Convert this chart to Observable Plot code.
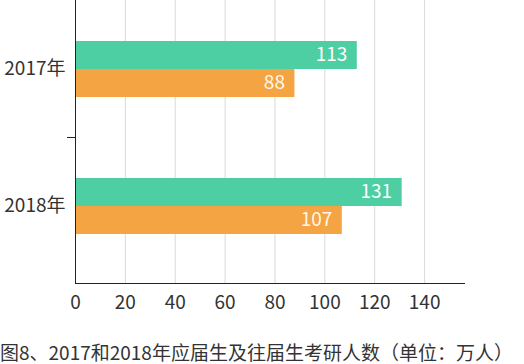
<!DOCTYPE html>
<html>
<head>
<meta charset="utf-8">
<script src="https://cdn.jsdelivr.net/npm/d3@7"></script>
<script src="https://cdn.jsdelivr.net/npm/@observablehq/plot@0.6"></script>
<style>
  html, body { margin: 0; padding: 0; background: #fff; }
  body { width: 524px; height: 364px; overflow: hidden; font-family: "Noto Sans CJK SC", sans-serif; }
  #chart { height: 320px; }
  #caption { display: inline-block; font-size: 19px; line-height: 22px; color: #333; margin-top: 21px; white-space: nowrap; }
</style>
</head>
<body>
<div id="chart"></div>
<div id="caption">图8、2017和2018年应届生及往届生考研人数（单位：万人）</div>
<script>
const years = ["2017年", "2018年"];
const freshGrads = [113, 131];   // 应届生
const pastGrads = [88, 107];     // 往届生
const xTicks = [0, 20, 40, 60, 80, 100, 120, 140];
const gridTicks = [20, 40, 60, 80, 100, 120, 140];

const fresh = years.map((y, i) => ({year: y, value: freshGrads[i]}));
const past = years.map((y, i) => ({year: y, value: pastGrads[i]}));

const green = "#4dcea3";
const orange = "#f4a443";

const plot = Plot.plot({
  width: 524,
  height: 320,
  marginLeft: 75,
  marginRight: 60,
  marginTop: 0,
  marginBottom: 37,
  style: {fontFamily: "Noto Sans CJK SC, sans-serif", fontSize: "19px", color: "#333", background: "#fff"},
  x: {domain: [0, 156], label: null},
  y: {domain: years, range: [-0.5, 273.5], padding: 0, label: null},
  marks: [
    Plot.gridX(gridTicks, {stroke: "#d9d9d9", strokeOpacity: 1}),
    Plot.barX(fresh, {y: "year", x: "value", fill: green, insetTop: 41, insetBottom: 68}),
    Plot.barX(past, {y: "year", x: "value", fill: orange, insetTop: 69, insetBottom: 40}),
    Plot.text(fresh, {y: "year", x: "value", text: d => String(d.value), fill: "#fff", textAnchor: "end", dx: -10, dy: -14, fontSize: 19}),
    Plot.text(past, {y: "year", x: "value", text: d => String(d.value), fill: "#fff8e8", textAnchor: "end", dx: -10, dy: 14, fontSize: 19}),
    Plot.barX([years[1]], {y: d => d, x1: 0, x2: 0, insetLeft: -8, insetBottom: 136, fill: "#222"}),
    Plot.ruleX([0], {stroke: "#222"}),
    Plot.frame({anchor: "bottom", stroke: "#222"}),
    Plot.axisX(xTicks, {tickSize: 0, tickPadding: 12, fontSize: 19, fill: "#333", label: null}),
    Plot.axisY({tickSize: 0, tickPadding: 10, fontSize: 19, fill: "#333", label: null})
  ]
});
document.getElementById("chart").appendChild(plot);
</script>
</body>
</html>
